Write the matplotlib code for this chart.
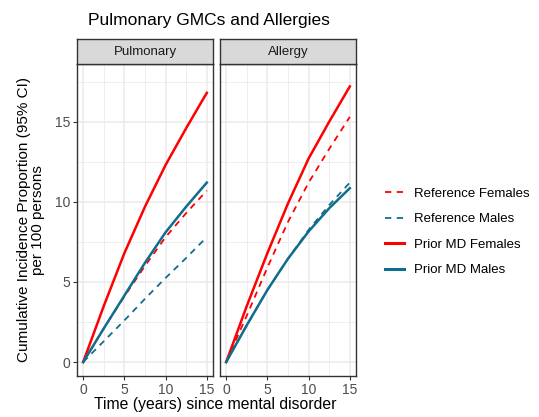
import matplotlib
matplotlib.use("Agg")
import matplotlib.pyplot as plt
from matplotlib.lines import Line2D

plt.rcParams["font.family"] = ["Liberation Sans", "DejaVu Sans"]

RED = "#FF0000"
TEAL = "#106E8C"

years = [0, 2.5, 5, 7.5, 10, 12.5, 15]

# Pulmonary panel
pul_ref_f = [0, 2.1, 4.1, 6.0, 7.8, 9.3, 10.7]
pul_ref_m = [0, 1.3, 2.6, 3.95, 5.25, 6.5, 7.8]
pul_md_f = [0, 3.5, 6.8, 9.7, 12.3, 14.6, 16.8]
pul_md_m = [0, 2.1, 4.15, 6.2, 8.1, 9.7, 11.2]

# Allergy panel
all_ref_f = [0, 2.9, 5.9, 8.75, 11.2, 13.3, 15.3]
all_ref_m = [0, 2.3, 4.5, 6.45, 8.25, 9.8, 11.2]
all_md_f = [0, 3.5, 6.8, 9.9, 12.7, 15.0, 17.2]
all_md_m = [0, 2.3, 4.5, 6.45, 8.15, 9.6, 10.85]

panels = ["Pulmonary", "Allergy"]
series = [
    [pul_ref_f, pul_ref_m, pul_md_f, pul_md_m],
    [all_ref_f, all_ref_m, all_md_f, all_md_m],
]
labels = ["Reference Females", "Reference Males", "Prior MD Females", "Prior MD Males"]
colors = [RED, TEAL, RED, TEAL]
dashed = [True, True, False, False]

fig = plt.figure(figsize=(5.39, 4.17), dpi=100)
W, H = 539, 417

lefts = [77, 220]
for i, name in enumerate(panels):
    ax = fig.add_axes([lefts[i] / W, (H - 376) / H, 136 / W, (376 - 64) / H])
    for ys, c, d in zip(series[i], colors, dashed):
        if d:
            ax.plot(years, ys, color=c, lw=1.3, dashes=(3.5, 3), zorder=3)
        else:
            ax.plot(years, ys, color=c, lw=1.8, zorder=4)
    ax.set_xlim(-0.75, 15.75)
    ax.set_ylim(-0.87, 18.6)
    ax.set_xticks([0, 5, 10, 15])
    ax.set_yticks([0, 5, 10, 15])
    ax.set_xticks([2.5, 7.5, 12.5], minor=True)
    ax.set_yticks([2.5, 7.5, 12.5, 17.5], minor=True)
    ax.grid(True, which="major", color="#EBEBEB", lw=1.1)
    ax.grid(True, which="minor", color="#EBEBEB", lw=0.6)
    ax.set_axisbelow(True)
    ax.tick_params(which="minor", length=0)
    ax.tick_params(which="major", length=3, color="#333333", labelsize=10,
                   labelcolor="#4D4D4D", pad=2)
    for s in ax.spines.values():
        s.set_color("#333333")
        s.set_linewidth(1.0)
    if i == 1:
        ax.set_yticklabels([])
        ax.tick_params(axis="y", length=0)

    # strip
    sax = fig.add_axes([lefts[i] / W, (H - 64) / H, 136 / W, 25 / H])
    sax.set_facecolor("#D9D9D9")
    sax.set_xticks([])
    sax.set_yticks([])
    for s in sax.spines.values():
        s.set_color("#333333")
        s.set_linewidth(1.0)
    sax.text(0.5, 0.5, name, ha="center", va="center", fontsize=9.5,
             color="#1A1A1A", transform=sax.transAxes)

fig.text(209 / W, 1 - 20 / H, "Pulmonary GMCs and Allergies", ha="center",
         va="center", fontsize=12.5)
fig.text(215 / W, 1 - 405 / H, "Time (years) since mental disorder",
         ha="center", va="center", fontsize=11.3)
fig.text(31 / W, 1 - 220 / H,
         "Cumulative Incidence Proportion (95% CI)\nper 100 persons",
         ha="center", va="center", rotation=90, fontsize=11, linespacing=1.0)

handles = []
for lab, c, d in zip(labels, colors, dashed):
    if d:
        handles.append(Line2D([], [], color=c, lw=1.3, dashes=(3.5, 3)))
    else:
        handles.append(Line2D([], [], color=c, lw=2.2))
fig.legend(handles, labels, loc="center left", bbox_to_anchor=(373 / W, 1 - 232 / H),
           frameon=False, fontsize=9.5, handlelength=1.45, labelspacing=1.0,
           handletextpad=0.75)

plt.savefig("out.png", dpi=100)
